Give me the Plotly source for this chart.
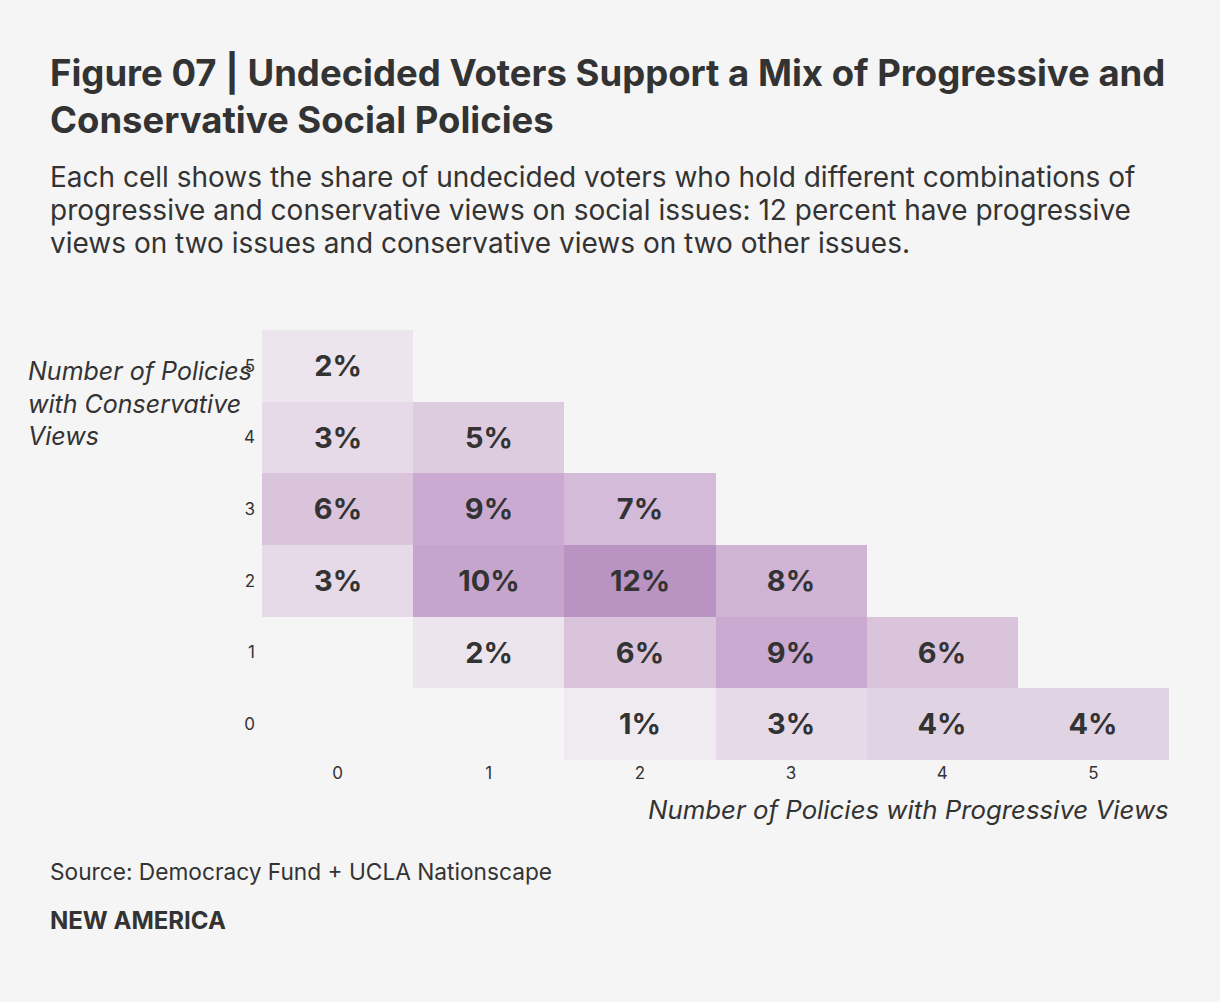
import plotly.graph_objects as go

progressive = [0, 1, 2, 3, 4, 5]
conservative = [0, 1, 2, 3, 4, 5]
# share (%) by conservative row (0..5), progressive column (0..5); None = no cell
share = [
    [None, None, 1, 3, 4, 4],      # conservative 0
    [None, 2, 6, 9, 6, None],      # conservative 1
    [3, 10, 12, 8, None, None],    # conservative 2
    [6, 9, 7, None, None, None],   # conservative 3
    [3, 5, None, None, None, None],# conservative 4
    [2, None, None, None, None, None],  # conservative 5
]
text = [["" if v is None else f"<b>{v}%</b>" for v in row] for row in share]

subtitle_lines = [
    "Each cell shows the share of undecided voters who hold different combinations of",
    "progressive and conservative views on social issues: 12 percent have progressive",
    "views on two issues and conservative views on two other issues.",
]

FONT = "Inter"
BG = "#f5f5f5"
DARK = "#333333"

ZMAX = 12
scale_pts = [(0, "#f4f1f4"), (1, "#f0ebf0"), (2, "#ece5ed"), (3, "#e6d9e8"), (4, "#e0d3e3"),
             (6, "#d9c4dc"), (9, "#cbaad2"), (10, "#c6a5cd"), (12, "#b994c3")]
colorscale = [[v / ZMAX, c] for v, c in scale_pts]

L, R, T, B = 262, 51, 330, 242
PH = 1002 - T - B  # plot height in px
PW = 1220 - L - R


def py(pix):  # pixel y (from top) -> paper y
    return (1002 - B - pix) / PH


def px(pix):  # pixel x -> paper x
    return (pix - L) / PW


fig = go.Figure(go.Heatmap(
    x=progressive, y=conservative, z=share, text=text,
    texttemplate="%{text}",
    textfont=dict(family=FONT, size=29, color=DARK),
    colorscale=colorscale,
    zmin=0, zmax=ZMAX, showscale=False, hoverinfo="skip",
))

annotations = [
    dict(text="<b>Figure 07 | Undecided Voters Support a Mix of Progressive and<br>Conservative Social Policies</b>",
         xref="paper", yref="paper", x=px(48), y=py(49), xanchor="left", yanchor="top",
         align="left", showarrow=False, font=dict(size=36.5, color=DARK, family=FONT)),
]
for i, line in enumerate(subtitle_lines):
    annotations.append(dict(
        text=line, xref="paper", yref="paper", x=px(48), y=py(177 + 33 * i), xanchor="left",
        yanchor="middle", align="left", showarrow=False, font=dict(size=28, color=DARK, family=FONT)))
annotations += [
    dict(text="<i>Number of Policies<br>with Conservative<br>Views</i>",
         xref="paper", yref="paper", x=px(26), y=py(354), xanchor="left", yanchor="top",
         align="left", showarrow=False, font=dict(size=25, color=DARK, family=FONT)),
    dict(text="<i>Number of Policies with Progressive Views</i>",
         xref="paper", yref="paper", x=px(1171), y=py(792), xanchor="right", yanchor="top",
         align="right", showarrow=False, font=dict(size=25.8, color=DARK, family=FONT)),
    dict(text="Source: Democracy Fund + UCLA Nationscape",
         xref="paper", yref="paper", x=px(48), y=py(856), xanchor="left", yanchor="top",
         align="left", showarrow=False, font=dict(size=22.7, color=DARK, family=FONT)),
    dict(text="<b>NEW AMERICA</b>",
         xref="paper", yref="paper", x=px(48), y=py(904), xanchor="left", yanchor="top",
         align="left", showarrow=False, font=dict(size=24, color=DARK, family=FONT)),
]

fig.update_layout(
    width=1220, height=1002,
    paper_bgcolor=BG, plot_bgcolor=BG,
    margin=dict(l=L, r=R, t=T, b=B),
    font=dict(family=FONT, color=DARK),
    xaxis=dict(range=[-0.5, 5.5], tickvals=progressive, ticktext=[str(v) for v in progressive],
               showgrid=False, zeroline=False, showline=False, ticks="",
               tickfont=dict(size=17, color=DARK), ticklabelstandoff=1),
    yaxis=dict(range=[-0.5, 5.5], tickvals=conservative, ticktext=[str(v) for v in conservative],
               showgrid=False, zeroline=False, showline=False, ticks="",
               tickfont=dict(size=17, color=DARK), ticklabelstandoff=6),
    annotations=annotations,
)

fig.write_html(
    "out.html",
    config={"displayModeBar": False},
    post_script="document.body.style.margin='0';document.body.style.background='#f5f5f5';"
                "document.body.style.overflow='hidden';",
)
